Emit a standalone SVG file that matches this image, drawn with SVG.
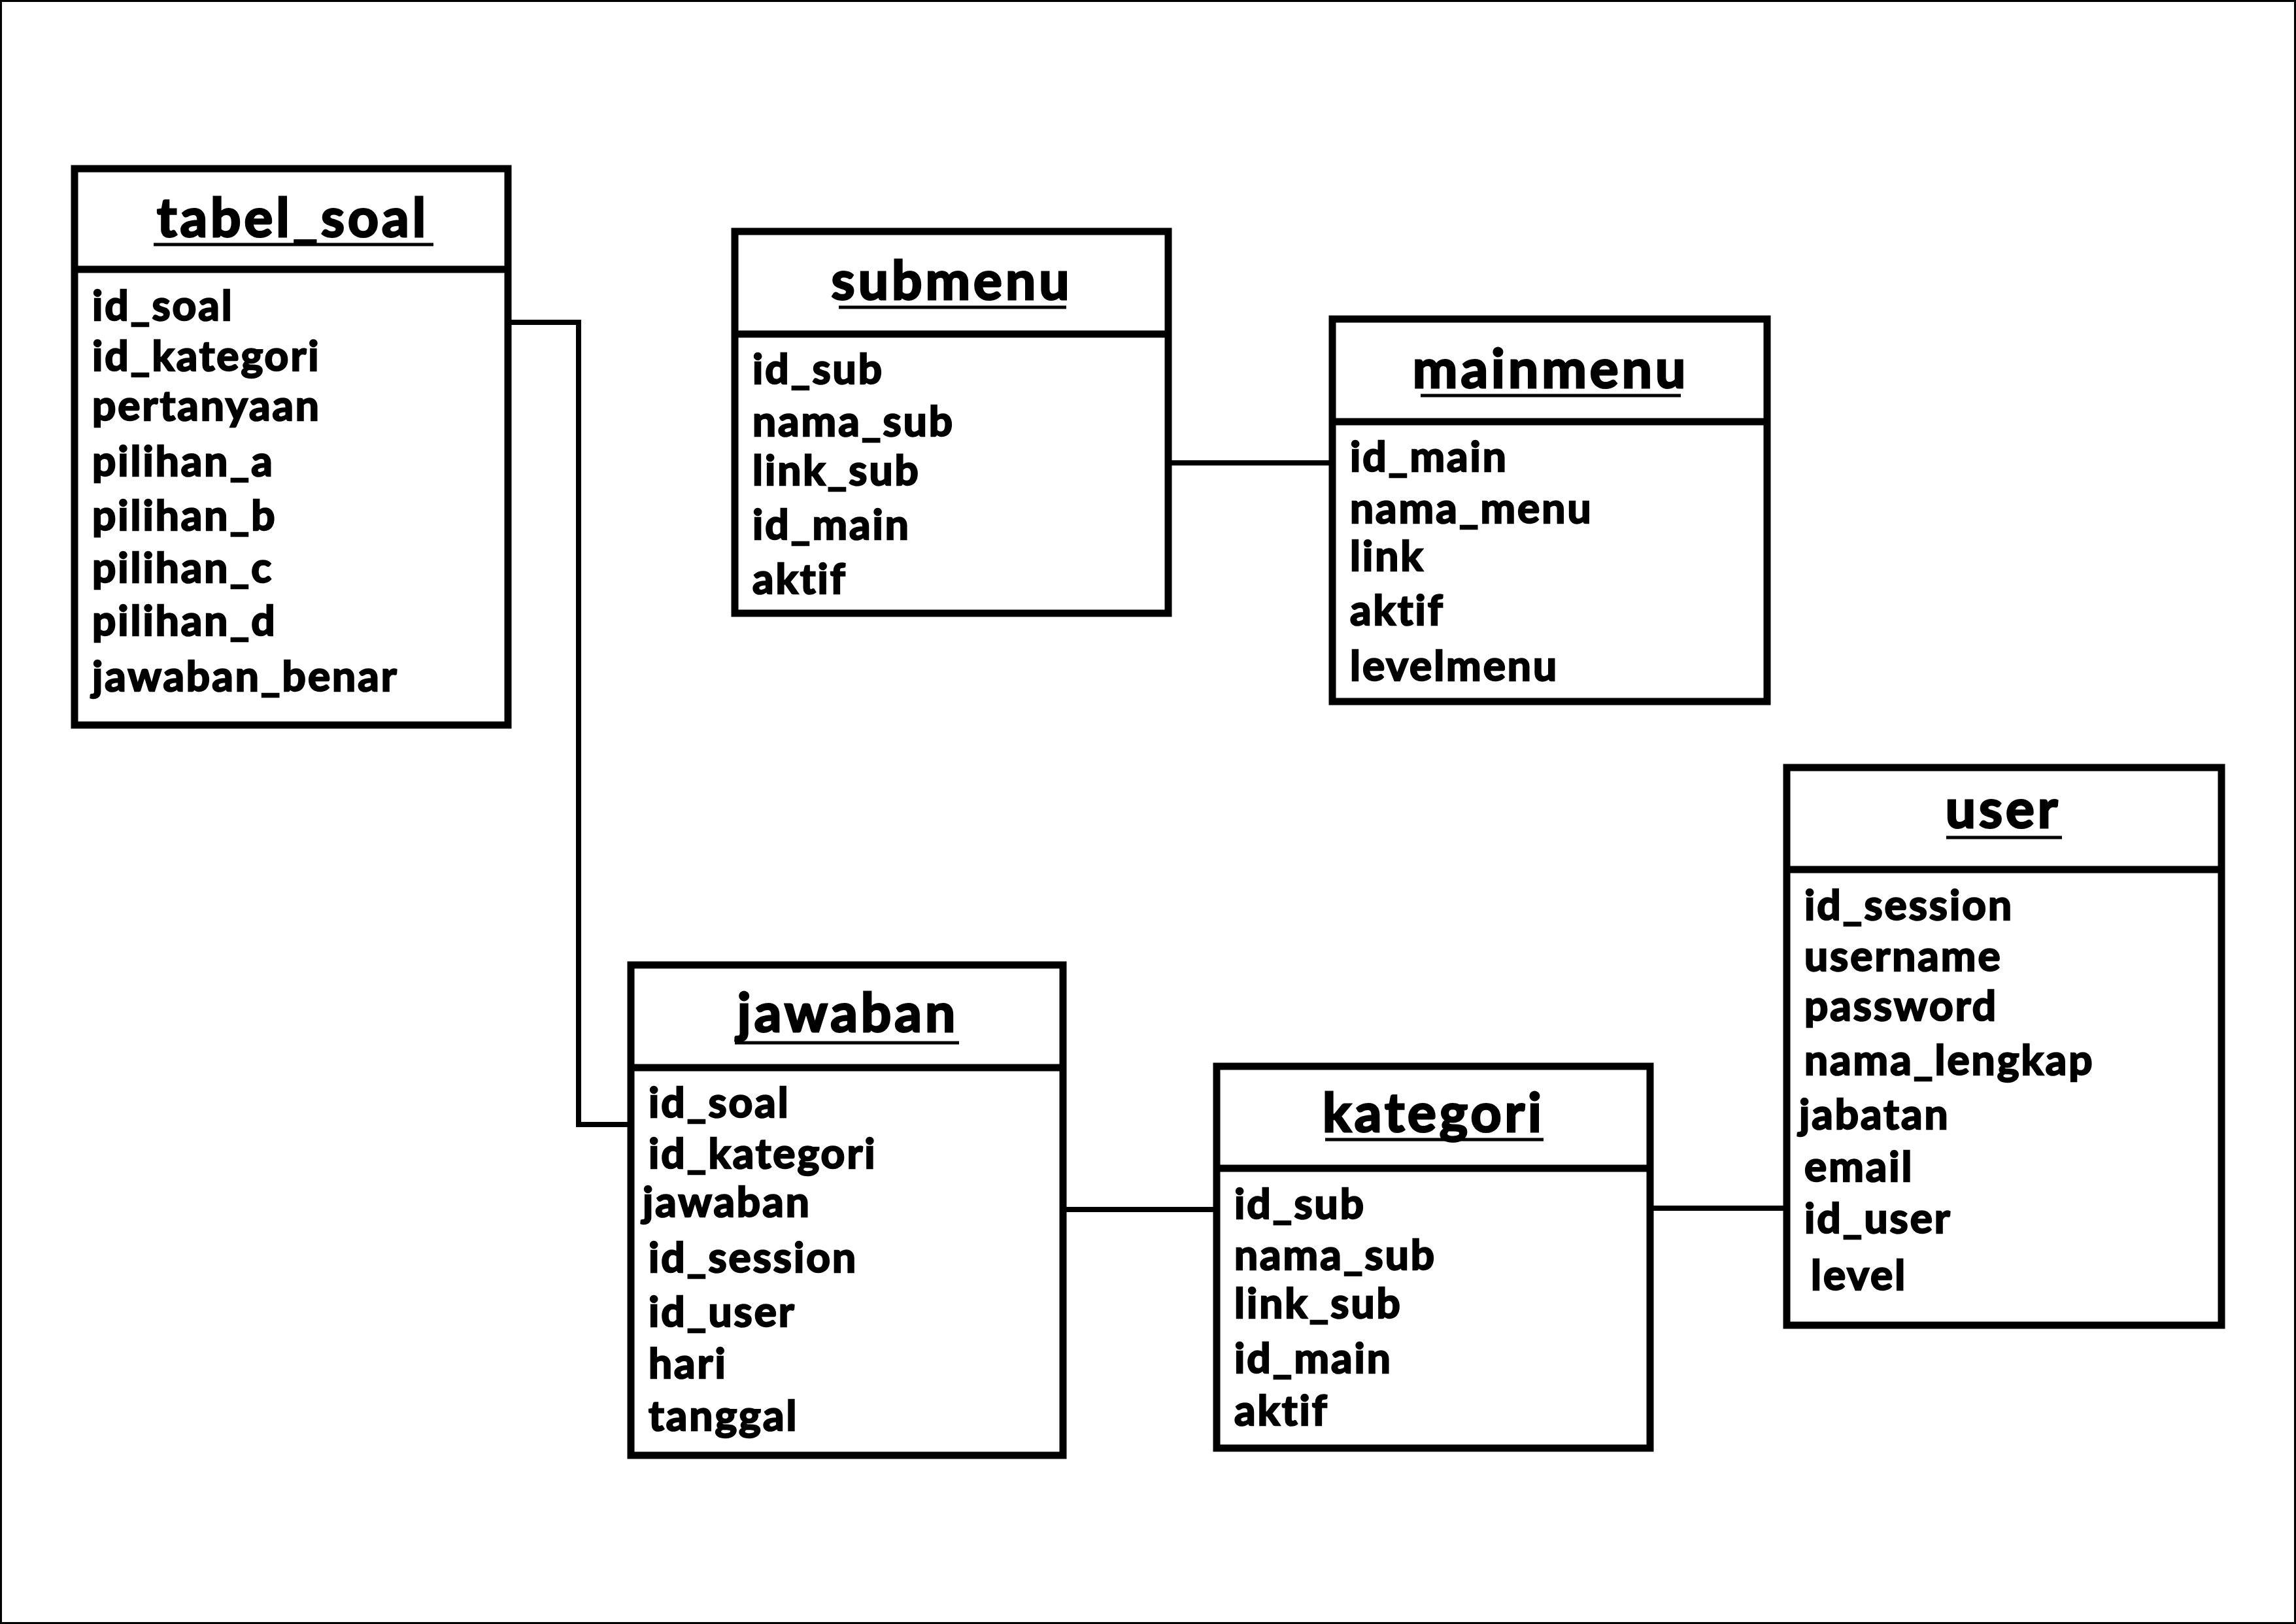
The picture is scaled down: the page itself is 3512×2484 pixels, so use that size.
<svg xmlns="http://www.w3.org/2000/svg" width="3512" height="2484" viewBox="0 0 3512 2484">
<style>
.box{fill:#fff;stroke:#000;stroke-width:11}
.div{stroke:#000;stroke-width:11}
.ul{stroke:#000;stroke-width:5}
.title{font-family:Lato,"Liberation Sans",sans-serif;font-weight:bold;font-size:82px;letter-spacing:5px;text-anchor:middle;fill:#000;stroke:#000;stroke-width:3}
.f{font-family:Lato,"Liberation Sans",sans-serif;font-weight:bold;font-size:64px;letter-spacing:3px;fill:#000;stroke:#000;stroke-width:2.5}
.conn{fill:none;stroke:#000;stroke-width:8}
</style>
<rect x="1.5" y="1.5" width="3509" height="2481" fill="#fff" stroke="#000" stroke-width="3"/>
<g id="connectors">
<polyline class="conn" points="777,493 885,493 885,1720 965,1720"/>
<line class="conn" x1="1787" y1="708" x2="2038" y2="708"/>
<line class="conn" x1="1626" y1="1850" x2="1861" y2="1850"/>
<line class="conn" x1="2524" y1="1848" x2="2733" y2="1848"/>
</g>
<g id="tabel_soal">
<rect class="box" x="114" y="258" width="663" height="851"/>
<line class="div" x1="114" y1="412" x2="777" y2="412"/>
<text class="title" x="448" y="362">tabel_soal</text>
<line class="ul" x1="235" y1="374" x2="663" y2="374"/>
<text class="f" x="141" y="490">id_soal</text>
<text class="f" x="141" y="567">id_kategori</text>
<text class="f" x="141" y="643">pertanyaan</text>
<text class="f" x="141" y="728">pilihan_a</text>
<text class="f" x="141" y="811">pilihan_b</text>
<text class="f" x="141" y="891">pilihan_c</text>
<text class="f" x="141" y="972">pilihan_d</text>
<text class="f" x="141" y="1057">jawaban_benar</text>
</g>
<g id="submenu">
<rect class="box" x="1124" y="354" width="663" height="584"/>
<line class="div" x1="1124" y1="511" x2="1787" y2="511"/>
<text class="title" x="1456" y="458">submenu</text>
<line class="ul" x1="1283" y1="470" x2="1631" y2="470"/>
<text class="f" x="1151" y="587">id_sub</text>
<text class="f" x="1151" y="667">nama_sub</text>
<text class="f" x="1151" y="742">link_sub</text>
<text class="f" x="1151" y="825">id_main</text>
<text class="f" x="1151" y="908">aktif</text>
</g>
<g id="mainmenu">
<rect class="box" x="2038" y="488" width="665" height="585"/>
<line class="div" x1="2038" y1="645" x2="2703" y2="645"/>
<text class="title" x="2372" y="593">mainmenu</text>
<line class="ul" x1="2173" y1="605" x2="2571" y2="605"/>
<text class="f" x="2065" y="721">id_main</text>
<text class="f" x="2065" y="800">nama_menu</text>
<text class="f" x="2065" y="873">link</text>
<text class="f" x="2065" y="956">aktif</text>
<text class="f" x="2065" y="1041">levelmenu</text>
</g>
<g id="user">
<rect class="box" x="2733" y="1174" width="665" height="853"/>
<line class="div" x1="2733" y1="1330" x2="3398" y2="1330"/>
<text class="title" x="3064" y="1266">user</text>
<line class="ul" x1="2977" y1="1281" x2="3154" y2="1281"/>
<text class="f" x="2760" y="1407">id_session</text>
<text class="f" x="2760" y="1485">username</text>
<text class="f" x="2760" y="1561">password</text>
<text class="f" x="2760" y="1644">nama_lengkap</text>
<text class="f" x="2752" y="1727">jabatan</text>
<text class="f" x="2760" y="1807">email</text>
<text class="f" x="2760" y="1886">id_user</text>
<text class="f" x="2770" y="1973">level</text>
</g>
<g id="jawaban">
<rect class="box" x="965" y="1476" width="661" height="750"/>
<line class="div" x1="965" y1="1633" x2="1626" y2="1633"/>
<text class="title" x="1297" y="1578">jawaban</text>
<line class="ul" x1="1124" y1="1595" x2="1467" y2="1595"/>
<text class="f" x="992" y="1709">id_soal</text>
<text class="f" x="992" y="1787">id_kategori</text>
<text class="f" x="983" y="1861">jawaban</text>
<text class="f" x="992" y="1946">id_session</text>
<text class="f" x="992" y="2029">id_user</text>
<text class="f" x="992" y="2108">hari</text>
<text class="f" x="992" y="2188">tanggal</text>
</g>
<g id="kategori">
<rect class="box" x="1861" y="1631" width="663" height="584"/>
<line class="div" x1="1861" y1="1787" x2="2524" y2="1787"/>
<text class="title" x="2193" y="1731">kategori</text>
<line class="ul" x1="2027" y1="1743" x2="2361" y2="1743"/>
<text class="f" x="1888" y="1864">id_sub</text>
<text class="f" x="1888" y="1942">nama_sub</text>
<text class="f" x="1888" y="2016">link_sub</text>
<text class="f" x="1888" y="2100">id_main</text>
<text class="f" x="1888" y="2180">aktif</text>
</g>
</svg>
